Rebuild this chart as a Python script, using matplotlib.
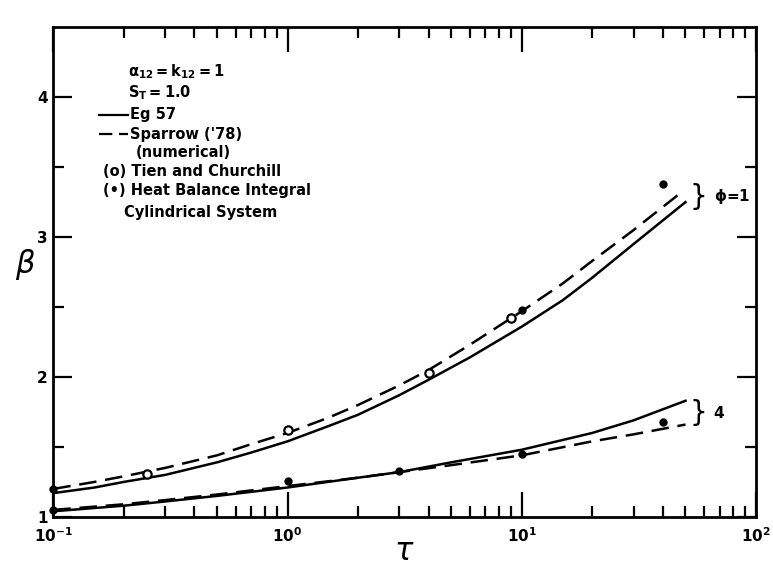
import numpy as np
import matplotlib
matplotlib.use("Agg")
import matplotlib.pyplot as plt
from matplotlib.ticker import FixedLocator, LogLocator, NullFormatter

# Eq 57 and Sparrow ('78) curves
tau_phi1 = [0.1, 0.15, 0.2, 0.3, 0.5, 0.7, 1, 1.5, 2, 3, 4, 6, 10, 15, 20, 30, 50]
beta_eq57_phi1 = [1.17, 1.21, 1.25, 1.30, 1.39, 1.46, 1.54, 1.65, 1.73, 1.87,
                  1.98, 2.14, 2.36, 2.55, 2.71, 2.95, 3.25]
tau_sp1 = [0.1, 0.15, 0.2, 0.3, 0.5, 0.7, 1, 1.5, 2, 3, 4, 6, 10, 15, 20, 30, 48]
beta_sparrow_phi1 = [1.20, 1.25, 1.29, 1.35, 1.44, 1.52, 1.60, 1.71, 1.80, 1.94,
                     2.05, 2.23, 2.47, 2.67, 2.83, 3.05, 3.32]

tau_phi4 = [0.1, 0.2, 0.3, 0.5, 1, 2, 3, 5, 10, 20, 30, 50]
beta_eq57_phi4 = [1.04, 1.08, 1.11, 1.15, 1.21, 1.28, 1.32, 1.39, 1.48, 1.60, 1.69, 1.83]
beta_sparrow_phi4 = [1.05, 1.09, 1.12, 1.16, 1.22, 1.28, 1.32, 1.37, 1.44, 1.54, 1.59, 1.66]

# Tien and Churchill (open circles)
tau_tien = [0.25, 1, 4, 9]
beta_tien = [1.31, 1.62, 2.03, 2.42]

# Heat balance integral (filled circles)
tau_hbi = [0.1, 10, 40, 0.1, 1, 3, 10, 40]
beta_hbi = [1.20, 2.48, 3.38, 1.05, 1.255, 1.33, 1.45, 1.68]

plt.rcParams['font.family'] = ['DejaVu Sans']
fig = plt.figure(figsize=(7.73, 5.68), dpi=100)
ax = fig.add_axes([0.069, 0.09, 0.909, 0.862])

lw = 1.8
dash = (7, 3.5)
ax.plot(tau_phi1, beta_eq57_phi1, 'k-', lw=lw)
ax.plot(tau_sp1, beta_sparrow_phi1, 'k--', lw=lw, dashes=dash)
ax.plot(tau_phi4, beta_eq57_phi4, 'k-', lw=lw)
ax.plot(tau_phi4, beta_sparrow_phi4, 'k--', lw=lw, dashes=dash)
ax.plot(tau_tien, beta_tien, 'o', ms=6, mfc='white', mec='black', mew=1.6)
ax.plot(tau_hbi, beta_hbi, 'o', ms=5, color='black', clip_on=False)

ax.set_xscale('log')
ax.set_xlim(0.1, 100)
ax.set_ylim(1, 4.5)

ax.xaxis.set_major_locator(LogLocator(base=10, numticks=10))
ax.xaxis.set_minor_locator(LogLocator(base=10, subs=np.arange(2, 10), numticks=10))
ax.xaxis.set_minor_formatter(NullFormatter())
ax.yaxis.set_major_locator(FixedLocator([1, 2, 3, 4]))
ax.yaxis.set_minor_locator(FixedLocator([1.5, 2.5, 3.5]))
ax.set_yticklabels(['1', '2', '3', '4'])

ax.tick_params(which='both', direction='in', top=True, right=True, width=1.6,
               labelsize=11)
ax.tick_params(which='major', length=18)
ax.tick_params(which='minor', length=8)
ax.tick_params(axis='x', which='major', pad=7)
ax.tick_params(axis='y', which='major', length=14, pad=4)
for lab in ax.get_xticklabels() + ax.get_yticklabels():
    lab.set_fontweight('bold')
for s in ax.spines.values():
    s.set_linewidth(2)

ax.set_xlabel(r'$\tau$', fontsize=22, labelpad=-6)
ax.set_ylabel(r'$\beta$', fontsize=22, rotation=0)
ax.yaxis.set_label_coords(-0.04, 0.48)

# legend block, as in the original figure
tx = dict(transform=fig.transFigure, fontsize=10.5, fontweight='bold', va='center')
fig.text(0.165, 1 - 72 / 568, r'$\mathbf{\alpha_{12}=k_{12}=1}$', **tx)
fig.text(0.165, 1 - 93 / 568, r'$\mathbf{S_T=1.0}$', **tx)
fig.text(0.168, 1 - 115 / 568, 'Eg 57', **tx)
fig.text(0.168, 1 - 134 / 568, "Sparrow ('78)", **tx)
fig.text(0.176, 1 - 153 / 568, '(numerical)', **tx)
fig.text(0.133, 1 - 172 / 568, '(o) Tien and Churchill', **tx)
fig.text(0.133, 1 - 191 / 568, '(•) Heat Balance Integral', **tx)
fig.text(0.160, 1 - 213 / 568, 'Cylindrical System', **tx)
fig.add_artist(plt.Line2D([0.128, 0.165], [1 - 115 / 568] * 2, color='k', lw=1.6,
                          transform=fig.transFigure))
fig.add_artist(plt.Line2D([0.128, 0.165], [1 - 134 / 568] * 2, color='k', lw=1.6,
                          dashes=(6, 3), transform=fig.transFigure))

# braces marking the phi groups
ax.text(52, 3.29, '}', fontsize=20, va='center')
ax.text(66, 3.29, r'$\mathbf{\phi}$' + '=1', fontsize=11, fontweight='bold', va='center')
ax.text(52, 1.74, '}', fontsize=20, va='center')
ax.text(66, 1.74, '4', fontsize=11, fontweight='bold', va='center')

fig.savefig('out.png', dpi=100)
